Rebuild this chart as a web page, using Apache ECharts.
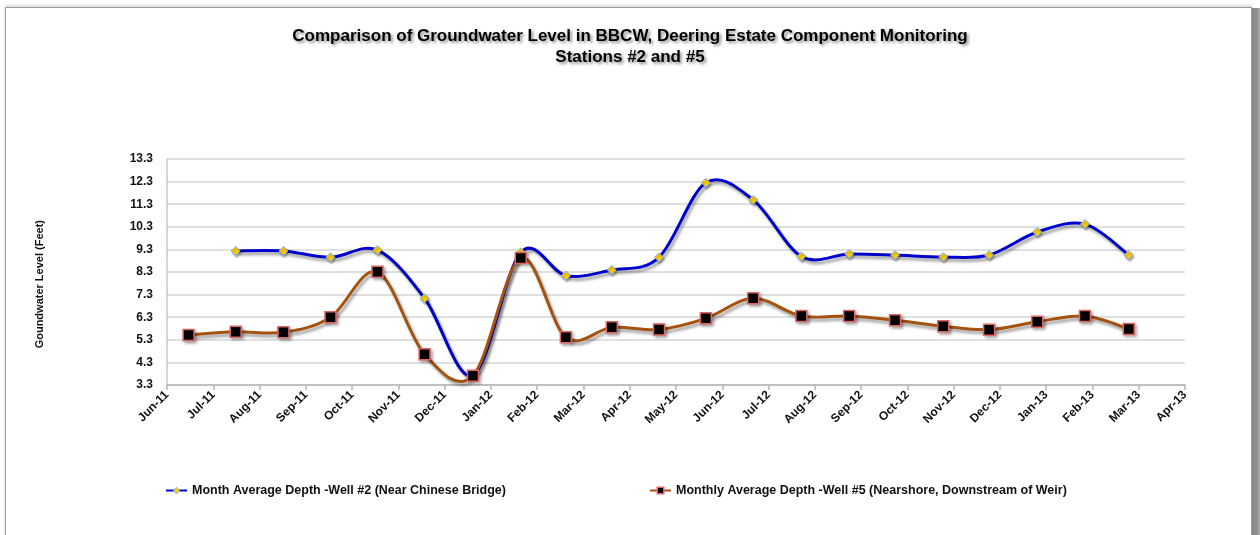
<!DOCTYPE html>
<html>
<head>
<meta charset="utf-8">
<title>Groundwater Level BBCW</title>
<script src="https://cdn.jsdelivr.net/npm/echarts@6/dist/echarts.min.js"></script>
<style>
  html, body { margin: 0; padding: 0; background: #fff; }
  #wrap { position: relative; width: 1260px; height: 535px; overflow: hidden; }
  #frame {
    position: absolute; left: 5px; top: 7px; width: 1245px; height: 560px;
    border: 1px solid #9a9a9a; background: #fff;
    box-shadow: 0 -2px 3px rgba(0,0,0,0.15);
  }
  #edge {
    position: absolute; left: 1252px; top: 8px; width: 8px; height: 540px;
    background: linear-gradient(to right, #888, #959595 70%, #b0b0b0);
  }
  #main { position: absolute; left: 0; top: 0; width: 1260px; height: 535px; }
</style>
</head>
<body>
<div id="wrap">
  <div id="frame"></div>
  <div id="edge"></div>
  <div id="main"></div>
</div>
<script>
// month tick labels (Jun-11 .. Apr-13)
var monthLabels = ['Jun-11','Jul-11','Aug-11','Sep-11','Oct-11','Nov-11','Dec-11',
  'Jan-12','Feb-12','Mar-12','Apr-12','May-12','Jun-12','Jul-12','Aug-12','Sep-12',
  'Oct-12','Nov-12','Dec-12','Jan-13','Feb-13','Mar-13','Apr-13'];

// sampling dates (approx.)
var sampleDates = ['2011-06-15','2011-07-16','2011-08-17','2011-09-17','2011-10-18',
  '2011-11-18','2011-12-20','2012-01-21','2012-02-19','2012-03-20','2012-04-20',
  '2012-05-21','2012-06-21','2012-07-23','2012-08-24','2012-09-23','2012-10-25',
  '2012-11-24','2012-12-26','2013-01-27','2013-02-23'];

// Well #2 has no June 2011 reading
var well2 = [null, 9.23, 9.23, 8.95, 9.27, 7.14, 3.73, 9.17, 8.14, 8.39, 8.95,
  12.25, 11.49, 8.99, 9.10, 9.05, 8.96, 9.05, 10.07, 10.42, 9.05];
var well5 = [5.51, 5.66, 5.63, 6.30, 8.31, 4.66, 3.71, 8.92, 5.41, 5.85, 5.76,
  6.25, 7.14, 6.35, 6.35, 6.16, 5.90, 5.75, 6.10, 6.35, 5.78];

var yTicks = [3.3, 4.3, 5.3, 6.3, 7.3, 8.3, 9.3, 10.3, 11.3, 12.3, 13.3];
var yBase = yTicks[0];

var name2 = 'Month Average Depth -Well #2 (Near Chinese Bridge)';
var name5 = 'Monthly Average Depth -Well #5 (Nearshore, Downstream of Weir)';
var blue = '#0000cc', brown = '#a4520f';
var mark2 = { color: '#ffcc00', borderColor: '#7aaee0', borderWidth: 1 };
var mark5 = { color: '#000', borderColor: '#e06666', borderWidth: 1.5 };

// date -> months since Jun 2011 (Excel date axis, evenly spaced months)
function monthOffset(s) {
  var p = s.split('-');
  var y = +p[0], m = +p[1], d = +p[2];
  var dim = new Date(y, m, 0).getDate();
  return (y - 2011) * 12 + (m - 6) + (d - 1) / dim;
}

function toSeries(vals) {
  var out = [];
  for (var i = 0; i < vals.length; i++) {
    if (vals[i] == null) continue;
    out.push([monthOffset(sampleDates[i]), vals[i] - yBase]);
  }
  return out;
}

var pts2 = toSeries(well2);
var pts5 = toSeries(well5);

// Excel-like smoothed line: Catmull-Rom -> bezier, points mapped through the axes
function pathRender(pts, color) {
  return function (params, api) {
    var p = pts.map(function (d) { return api.coord(d); });
    var n = p.length;
    var d = 'M' + p[0][0] + ',' + p[0][1];
    for (var i = 0; i < n - 1; i++) {
      var p0 = p[Math.max(i - 1, 0)], p1 = p[i], p2 = p[i + 1], p3 = p[Math.min(i + 2, n - 1)];
      var c1x = p1[0] + (p2[0] - p0[0]) / 6, c1y = p1[1] + (p2[1] - p0[1]) / 6;
      var c2x = p2[0] - (p3[0] - p1[0]) / 6, c2y = p2[1] - (p3[1] - p1[1]) / 6;
      d += ' C' + c1x + ',' + c1y + ' ' + c2x + ',' + c2y + ' ' + p2[0] + ',' + p2[1];
    }
    return {
      type: 'path',
      silent: true,
      shape: { pathData: d },
      style: {
        fill: null,
        stroke: color,
        lineWidth: 3,
        shadowColor: 'rgba(0,0,0,0.38)',
        shadowBlur: 3,
        shadowOffsetX: 2,
        shadowOffsetY: 3
      }
    };
  };
}

var chart = echarts.init(document.getElementById('main'));

var lblFont = { fontFamily: 'Liberation Sans, Arial, sans-serif', fontWeight: 'bold', color: '#111' };

var option = {
  backgroundColor: 'transparent',
  animation: false,
  title: {
    text: 'Comparison of Groundwater Level in BBCW, Deering Estate Component Monitoring\nStations #2 and #5',
    left: 'center',
    top: 21,
    textStyle: {
      fontFamily: 'Liberation Sans, Arial, sans-serif',
      fontSize: 17,
      fontWeight: 'bold',
      color: '#000',
      lineHeight: 21,
      textShadowColor: 'rgba(0,0,0,0.45)',
      textShadowBlur: 3,
      textShadowOffsetX: 2,
      textShadowOffsetY: 2
    }
  },
  grid: { left: 167, right: 75, top: 159, bottom: 150, containLabel: false },
  xAxis: {
    type: 'value',
    min: 0,
    max: monthLabels.length - 1,
    interval: 1,
    axisLine: { show: true, lineStyle: { color: '#b5b5b5', width: 1.5 } },
    axisTick: { show: true, length: 5, lineStyle: { color: '#b5b5b5', width: 1.5 } },
    splitLine: { show: false },
    axisLabel: Object.assign({
      fontSize: 12,
      rotate: 45,
      margin: 8,
      formatter: function (v) { return monthLabels[Math.round(v)] || ''; }
    }, lblFont)
  },
  yAxis: {
    type: 'value',
    min: 0,
    max: yTicks[yTicks.length - 1] - yBase,
    interval: 1,
    axisLine: { show: true, lineStyle: { color: '#c8c8c8', width: 1.5 } },
    axisTick: { show: false },
    splitLine: { show: true, lineStyle: { color: '#d6d6d6', width: 1.5 } },
    axisLabel: Object.assign({
      fontSize: 12,
      margin: 14,
      formatter: function (v) { return (v + yBase).toFixed(1); }
    }, lblFont)
  },
  legend: [
    {
      data: [{ name: name2, lineStyle: { color: blue, width: 2, opacity: 1 }, itemStyle: mark2 }],
      left: 165, top: 484, padding: 0,
      itemWidth: 21, itemHeight: 8,
      textStyle: Object.assign({ fontSize: 12.5 }, lblFont)
    },
    {
      data: [{ name: name5, lineStyle: { color: brown, width: 2, opacity: 1 }, itemStyle: mark5 }],
      left: 649, top: 484, padding: 0,
      itemWidth: 21, itemHeight: 8,
      textStyle: Object.assign({ fontSize: 12.5 }, lblFont)
    }
  ],
  graphic: [
    {
      type: 'text',
      left: 34,
      top: 220,
      rotation: Math.PI / 2,
      style: {
        text: 'Goundwater Level (Feet)',
        font: 'bold 11px Liberation Sans, Arial, sans-serif',
        fill: '#111'
      }
    }
  ],
  series: [
    {
      type: 'custom',
      data: [0],
      renderItem: pathRender(pts2, blue),
      clip: false,
      z: 2
    },
    {
      name: name2,
      type: 'line',
      data: pts2,
      symbol: 'diamond',
      symbolSize: 9,
      showAllSymbol: true,
      lineStyle: { color: blue, width: 0, opacity: 0 },
      itemStyle: Object.assign({
        shadowColor: 'rgba(0,0,0,0.3)', shadowBlur: 2, shadowOffsetX: 1, shadowOffsetY: 2
      }, mark2),
      z: 3
    },
    {
      type: 'custom',
      data: [0],
      renderItem: pathRender(pts5, brown),
      clip: false,
      z: 4
    },
    {
      name: name5,
      type: 'line',
      data: pts5,
      symbol: 'rect',
      symbolSize: 11,
      showAllSymbol: true,
      lineStyle: { color: brown, width: 0, opacity: 0 },
      itemStyle: Object.assign({
        shadowColor: 'rgba(0,0,0,0.35)', shadowBlur: 3, shadowOffsetX: 2, shadowOffsetY: 2
      }, mark5),
      z: 5
    }
  ]
};

chart.setOption(option);
</script>
</body>
</html>
